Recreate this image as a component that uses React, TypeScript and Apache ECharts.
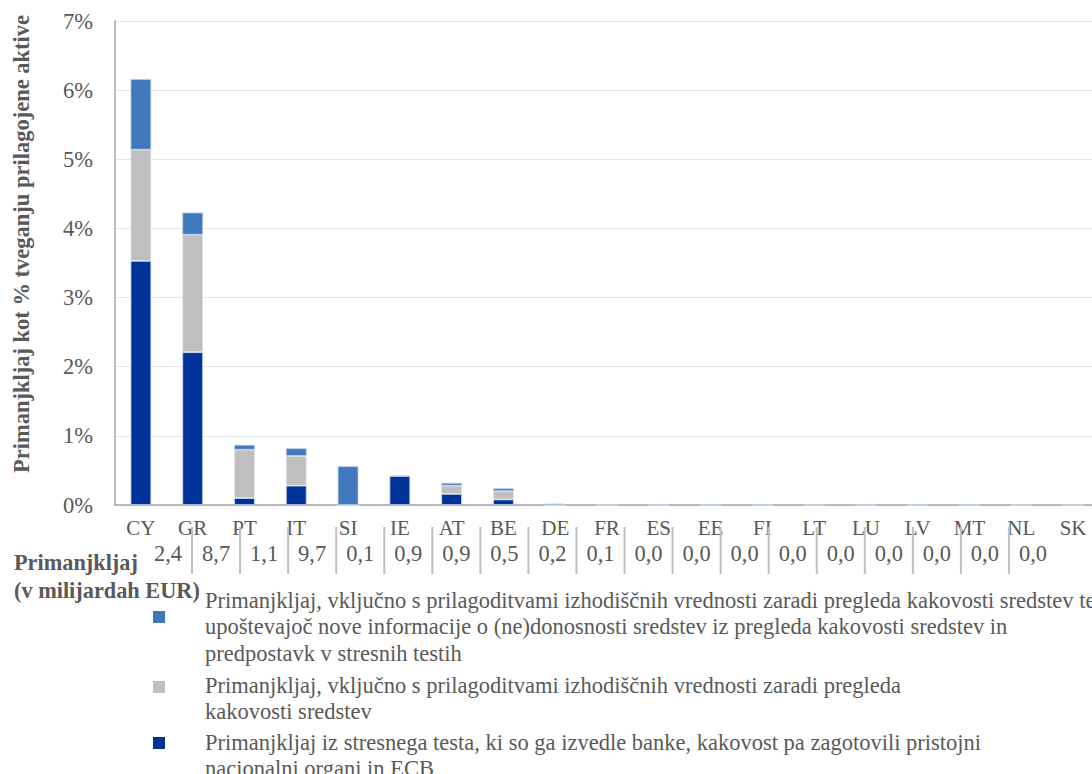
import React, { useEffect, useRef } from "react";
import * as echarts from "echarts";

const countries = ["CY", "GR", "PT", "IT", "SI", "IE", "AT", "BE", "DE", "FR", "ES", "EE", "FI", "LT", "LU", "LV", "MT", "NL", "SK"];
// % of risk-weighted assets
const stressTestShortfall = [3.53, 2.21, 0.10, 0.28, 0, 0.42, 0.16, 0.08, 0, 0, 0, 0, 0, 0, 0, 0, 0, 0, 0];
const aqrAdjustment = [1.61, 1.70, 0.70, 0.43, 0, 0.02, 0.12, 0.12, 0, 0, 0, 0, 0, 0, 0, 0, 0, 0, 0];
const aqrStressAdjustment = [1.02, 0.32, 0.07, 0.11, 0.56, -0.03, 0.04, 0.04, 0.02, 0, 0, 0, 0, 0, 0, 0, 0, 0, 0];
// shortfall in EUR billions
const shortfallBn = [2.4, 8.7, 1.1, 9.7, 0.1, 0.9, 0.9, 0.5, 0.2, 0.1, 0.0, 0.0, 0.0, 0.0, 0.0, 0.0, 0.0, 0.0, 0.0];

const seriesNames = [
  "Primanjkljaj, vključno s prilagoditvami izhodiščnih vrednosti zaradi pregleda kakovosti sredstev ter\nupoštevajoč nove informacije o (ne)donosnosti sredstev iz pregleda kakovosti sredstev in\npredpostavk v stresnih testih",
  "Primanjkljaj, vključno s prilagoditvami izhodiščnih vrednosti zaradi pregleda\nkakovosti sredstev",
  "Primanjkljaj iz stresnega testa, ki so ga izvedle banke, kakovost pa zagotovili pristojni\nnacionalni organi in ECB",
];

const COLORS = { light: "#4178BC", gray: "#BFBFBF", dark: "#003399" };
const FONT = "Liberation Serif";
const TXT = "#595959";

function txt(text: string, size: number, bold: boolean, align: string, vAlign: string, extra: any = {}) {
  return {
    text,
    fontSize: size,
    fontFamily: FONT,
    fontWeight: bold ? "bold" : "normal",
    fill: TXT,
    align,
    verticalAlign: vAlign,
    textAlign: align,
    textVerticalAlign: vAlign,
    ...extra,
  };
}

export default function App() {
  const ref = useRef<HTMLDivElement>(null);
  useEffect(() => {
    if (!ref.current) return;
    const chart = echarts.init(ref.current, undefined, { renderer: "svg" });
    const barBase = {
      type: "bar",
      stack: "total",
      barWidth: "40%",
      xAxisIndex: 0,
      yAxisIndex: 0,
    };
    const legendEntries = [
      { color: COLORS.light, text: seriesNames[0], textTop: 587, lh: 26.6, sq: 617 },
      { color: COLORS.gray, text: seriesNames[1], textTop: 672, lh: 26.6, sq: 687 },
      { color: COLORS.dark, text: seriesNames[2], textTop: 729, lh: 26, sq: 743 },
    ];
    const graphics: any[] = [
      {
        type: "text",
        x: 21,
        y: 244,
        rotation: Math.PI / 2,
        style: txt("Primanjkljaj kot % tveganju prilagojene aktive", 22.5, true, "center", "middle"),
      },
      { type: "text", x: 14, y: 562, style: txt("Primanjkljaj", 22.3, true, "left", "middle") },
      { type: "text", x: 14, y: 590, style: txt("(v milijardah EUR)", 22.3, true, "left", "middle") },
    ];
    legendEntries.forEach((e) => {
      graphics.push({
        type: "rect",
        shape: { x: 153, y: e.sq - 6, width: 12, height: 12 },
        style: { fill: e.color },
      });
      graphics.push({
        type: "text",
        x: 205,
        y: e.textTop,
        style: txt(e.text, 22.5, false, "left", "top", { lineHeight: e.lh }),
      });
    });

    chart.setOption({
      animation: false,
      grid: [
        { left: 115, top: 21, width: 984, height: 484, containLabel: false },
        { left: 144, top: 527, width: 913, height: 47, containLabel: false },
      ],
      xAxis: [
        {
          type: "category",
          gridIndex: 0,
          data: countries,
          axisLine: { show: true, lineStyle: { color: "#a6a6a6", width: 1.5 } },
          axisTick: { show: false },
          axisLabel: { color: TXT, fontFamily: FONT, fontSize: 21, margin: 12, interval: 0 },
        },
        { type: "category", gridIndex: 1, data: countries, show: false },
      ],
      yAxis: [
        {
          type: "value",
          gridIndex: 0,
          min: 0,
          max: 7,
          interval: 1,
          axisLine: { show: true, lineStyle: { color: "#a6a6a6", width: 1.5 } },
          axisTick: { show: false },
          splitLine: { show: true, lineStyle: { color: "#e6e6e6", width: 1 } },
          axisLabel: { color: TXT, fontFamily: FONT, fontSize: 22.5, margin: 22, formatter: "{value}%" },
        },
        { type: "value", gridIndex: 1, min: 0, max: 1, show: false },
      ],
      graphic: graphics,
      series: [
        {
          ...barBase,
          name: "stress",
          data: stressTestShortfall,
          itemStyle: { color: COLORS.dark, borderColor: "#c9d6ee", borderWidth: 0.8 },
        },
        {
          ...barBase,
          name: "aqr",
          data: aqrAdjustment,
          itemStyle: { color: COLORS.gray, borderColor: "#e4e4e4", borderWidth: 0.8 },
        },
        {
          ...barBase,
          name: "aqrStress",
          data: aqrStressAdjustment,
          itemStyle: { color: COLORS.light, borderColor: "#b6cbe9", borderWidth: 0.8 },
        },
        {
          type: "custom",
          xAxisIndex: 1,
          yAxisIndex: 1,
          data: shortfallBn.map((v, i) => [i, v]),
          renderItem: (params: any, api: any) => {
            const i = api.value(0);
            const v = api.value(1);
            const top = api.coord([i, 1]);
            const bot = api.coord([i, 0]);
            const w = api.size([1, 0])[0];
            const children: any[] = [
              {
                type: "text",
                x: top[0],
                y: (top[1] + bot[1]) / 2 + 3,
                style: txt(v.toFixed(1).replace(".", ","), 22.5, false, "center", "middle"),
              },
            ];
            if (i > 0) {
              children.push({
                type: "line",
                shape: { x1: top[0] - w / 2, y1: top[1], x2: top[0] - w / 2, y2: bot[1] },
                style: { stroke: "#bfbfbf", lineWidth: 2 },
              });
            }
            return { type: "group", children };
          },
        },
      ],
    });
    return () => chart.dispose();
  }, []);

  return (
    <div style={{ position: "fixed", left: 0, top: 0, width: 1092, height: 774, overflow: "hidden", background: "#fff" }}>
      <div ref={ref} style={{ width: 1110, height: 774 }} />
    </div>
  );
}
